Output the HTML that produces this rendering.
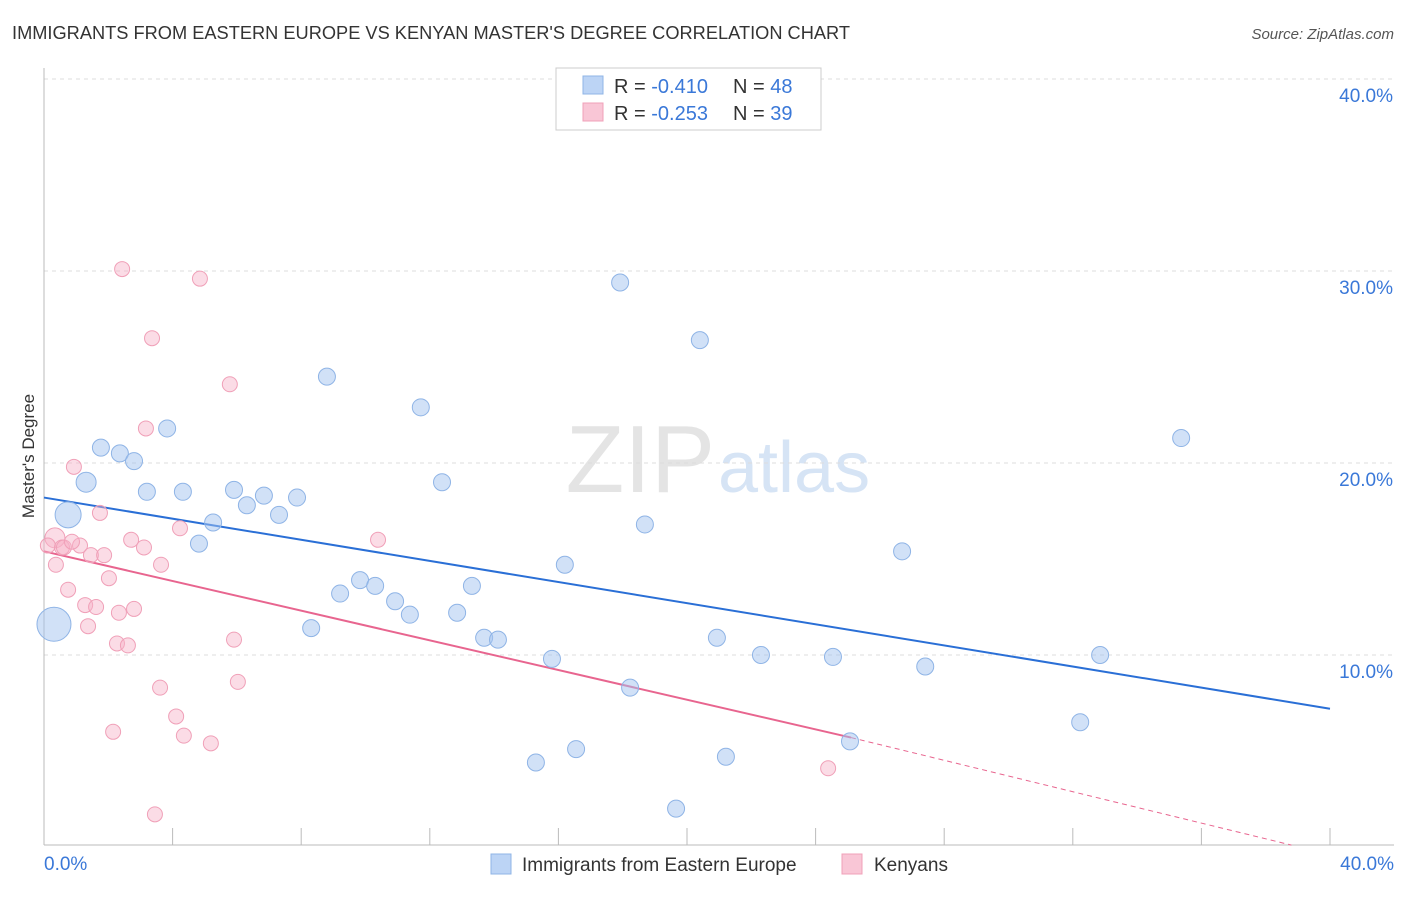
<!DOCTYPE html>
<html><head><meta charset="utf-8"><style>
body{margin:0;background:#fff;font-family:"Liberation Sans",sans-serif;}
svg text{font-family:"Liberation Sans",sans-serif;}
</style></head><body>
<svg id="chart" width="1406" height="892" xmlns="http://www.w3.org/2000/svg">
<text x="12" y="39" font-size="18" fill="#333" textLength="838" lengthAdjust="spacingAndGlyphs">IMMIGRANTS FROM EASTERN EUROPE VS KENYAN MASTER'S DEGREE CORRELATION CHART</text>
<text x="1394" y="39" font-size="15" fill="#555" text-anchor="end" font-style="italic">Source: ZipAtlas.com</text>
<text x="715" y="492" font-size="96" fill="#e4e4e4" text-anchor="end" font-family="Liberation Serif">ZIP</text>
<text x="718" y="492" font-size="72" fill="#d6e4f5">atlas</text>
<g id="grid"></g><g id="axes"></g><g id="trend"></g><g id="points"></g>
<text x="34" y="456" font-size="17" fill="#333" text-anchor="middle" transform="rotate(-90 34 456)">Master's Degree</text>
<g>
<rect x="556" y="68" width="265" height="62" fill="#fff" stroke="#ccc"/>
<rect x="583" y="76" width="20" height="18" fill="#bcd4f5" stroke="#8fb4e6"/>
<text x="614" y="93" font-size="20" fill="#333">R = <tspan fill="#3a78d8">-0.410</tspan></text>
<text x="733" y="93" font-size="20" fill="#333">N = <tspan fill="#3a78d8">48</tspan></text>
<rect x="583" y="103" width="20" height="18" fill="#f9c6d6" stroke="#f0a0b8"/>
<text x="614" y="120" font-size="20" fill="#333">R = <tspan fill="#3a78d8">-0.253</tspan></text>
<text x="733" y="120" font-size="20" fill="#333">N = <tspan fill="#3a78d8">39</tspan></text>
</g>
<g>
<rect x="491" y="854" width="20" height="20" fill="#bcd4f5" stroke="#8fb4e6"/>
<text x="522" y="871" font-size="19" fill="#333">Immigrants from Eastern Europe</text>
<rect x="842" y="854" width="20" height="20" fill="#f9c6d6" stroke="#f0a0b8"/>
<text x="874" y="871" font-size="19" fill="#333">Kenyans</text>
</g>
</svg>
<script>
const yTicks=[10,20,30,40];
const yTickLabels=["10.0%","20.0%","30.0%","40.0%"];
const xTickLabels=["0.0%","40.0%"];
const blueX=[0.75,0.31,1.31,1.77,2.36,2.8,3.83,3.2,4.32,5.26,4.82,5.91,6.31,6.84,7.31,7.87,8.8,8.31,9.21,9.83,10.3,10.92,11.38,11.72,12.38,12.85,13.31,13.69,14.12,15.8,15.3,16.2,16.55,17.92,18.69,18.23,19.66,20.4,20.93,21.21,22.3,24.54,25.07,26.69,27.41,32.23,32.85,35.37];
const blueY=[17.3,11.6,19.0,20.8,20.5,20.1,21.8,18.5,18.5,16.9,15.8,18.6,17.8,18.3,17.3,18.2,24.5,11.4,13.2,13.9,13.6,12.8,12.1,22.9,19.0,12.2,13.6,10.9,10.8,9.8,4.4,14.7,5.1,29.4,16.8,8.3,2.0,26.4,10.9,4.7,10.0,9.9,5.5,15.4,9.4,6.5,10.0,21.3];
const blueR=[13,17,10,8.5,8.5,8.5,8.5,8.5,8.5,8.5,8.5,8.5,8.5,8.5,8.5,8.5,8.5,8.5,8.5,8.5,8.5,8.5,8.5,8.5,8.5,8.5,8.5,8.5,8.5,8.5,8.5,8.5,8.5,8.5,8.5,8.5,8.5,8.5,8.5,8.5,8.5,8.5,8.5,8.5,8.5,8.5,8.5,8.5];
const pinkX=[0.34,0.12,0.37,0.56,0.93,0.75,1.12,1.28,1.37,1.62,1.46,1.74,1.87,2.02,2.15,2.27,2.33,2.43,2.61,2.71,2.8,3.11,3.17,3.36,3.45,3.61,3.64,4.11,4.23,4.35,4.85,5.19,5.78,5.91,6.03,10.39,24.39,0.62,0.87];
const pinkY=[16.1,15.7,14.7,15.6,19.8,13.4,15.7,12.6,11.5,12.5,15.2,17.4,15.2,14.0,6.0,10.6,12.2,30.1,10.5,16.0,12.4,15.6,21.8,26.5,1.7,8.3,14.7,6.8,16.6,5.8,29.6,5.4,24.1,10.8,8.6,16.0,4.1,15.6,15.9];
const pinkR=[10,7.5,7.5,7.5,7.5,7.5,7.5,7.5,7.5,7.5,7.5,7.5,7.5,7.5,7.5,7.5,7.5,7.5,7.5,7.5,7.5,7.5,7.5,7.5,7.5,7.5,7.5,7.5,7.5,7.5,7.5,7.5,7.5,7.5,7.5,7.5,7.5,7.5,7.5];
const blueTrend=[18.2,7.2];
const pinkTrend=[15.4,5.7,0.1];
const pinkTrendEnd=[25.1,38.8];
const X=v=>44+v*32.15, Y=v=>847-v*19.2;
const NS="http://www.w3.org/2000/svg";
function mk(t,a,p){const e=document.createElementNS(NS,t);for(const k in a)e.setAttribute(k,a[k]);document.getElementById(p).appendChild(e);return e;}
yTicks.forEach((t,i)=>{
 const g=mk("line",{x1:44,x2:1394,y1:Y(t),y2:Y(t),stroke:"#ddd","stroke-dasharray":"4,4"},"grid");
 
 
 const l=mk("text",{x:1393,y:Y(t)+23,"font-size":19,fill:"#3a78d8","text-anchor":"end"},"axes");
 l.textContent=yTickLabels[i];
 
 
});
const xa=mk("line",{x1:44,x2:1394,y1:845,y2:845,stroke:"#bbb"},"axes");


const ya=mk("line",{x1:44,x2:44,y1:68,y2:845,stroke:"#bbb"},"axes");


for(let i=1;i<=10;i++){const tk=mk("line",{x1:X(i*4),x2:X(i*4),y1:828,y2:845,stroke:"#bbb"},"axes");
 
 }
[[0,"start",44],[1,"end",1394]].forEach(([i,a,x])=>{const t=mk("text",{x:x,y:870,"font-size":19,fill:"#3a78d8","text-anchor":a},"axes");t.textContent=xTickLabels[i];
 
 });
const bt=mk("line",{x1:X(0),y1:Y(blueTrend[0]),x2:X(40),y2:Y(blueTrend[1]),stroke:"#2a6fd6","stroke-width":2},"trend");


const pt=mk("line",{x1:X(0),y1:Y(pinkTrend[0]),x2:X(pinkTrendEnd[0]),y2:Y(pinkTrend[1]),stroke:"#e8658f","stroke-width":2},"trend");


const pd=mk("line",{x1:X(pinkTrendEnd[0]),y1:Y(pinkTrend[1]),x2:X(pinkTrendEnd[1]),y2:Y(pinkTrend[2]),stroke:"#e8658f","stroke-width":1,"stroke-dasharray":"5,4"},"trend");


pinkX.forEach((x,i)=>{const c=mk("circle",{cx:X(x),cy:Y(pinkY[i]),r:pinkR[i],fill:"rgba(246,178,200,0.45)",stroke:"#f0a0b8","stroke-width":1},"points");
 
 });
blueX.forEach((x,i)=>{const c=mk("circle",{cx:X(x),cy:Y(blueY[i]),r:blueR[i],fill:"rgba(164,196,240,0.5)",stroke:"#8fb4e6","stroke-width":1},"points");
 
 });
</script>
</body></html>
